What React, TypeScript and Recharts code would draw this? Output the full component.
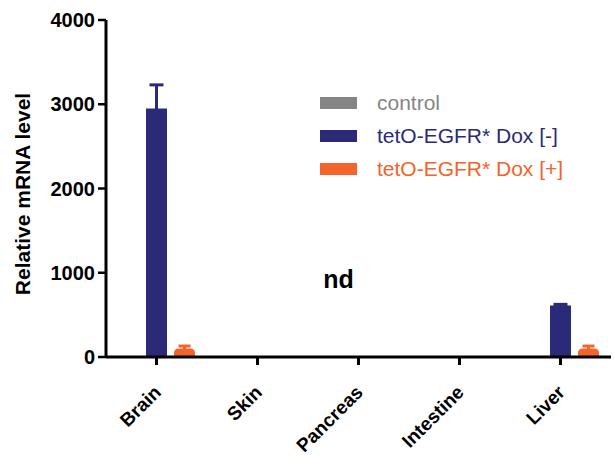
import React from 'react';
import {
  BarChart,
  Bar,
  XAxis,
  YAxis,
  ErrorBar,
  ReferenceDot,
} from 'recharts';

const categories = ['Brain', 'Skin', 'Pancreas', 'Intestine', 'Liver'];
const controlValues: (number | null)[] = [null, null, null, null, null];
const doxMinusValues: (number | null)[] = [2950, null, null, null, 610];
const doxMinusErrors: (number | null)[] = [280, null, null, null, 15];
const doxPlusValues: (number | null)[] = [100, null, null, null, 100];
const doxPlusErrors: (number | null)[] = [30, null, null, null, 30];
const yTicks = [0, 1000, 2000, 3000, 4000];

const seriesNames = ['control', 'tetO-EGFR* Dox [-]', 'tetO-EGFR* Dox [+]'];
const GRAY = '#858585';
const NAVY = '#2b2a78';
const ORANGE = '#f2642a';
const seriesColors = [GRAY, NAVY, ORANGE];

const data = categories.map((c, i) => ({
  name: c,
  control: controlValues[i],
  doxMinus: doxMinusValues[i],
  doxMinusErr: doxMinusErrors[i],
  doxPlus: doxPlusValues[i],
  doxPlusErr: doxPlusErrors[i],
}));

const FONT = '"Liberation Sans", Arial, sans-serif';

const XTick = (props: any) => {
  const { x, y, payload } = props;
  return (
    <text
      transform={`translate(${x + 1},${y + 22}) rotate(-45)`}
      textAnchor="end"
      dominantBaseline="central"
      fontFamily={FONT}
      fontWeight="bold"
      fontSize={19}
      fill="#000"
    >
      {payload.value}
    </text>
  );
};

const YLabel = () => (
  <text
    transform="translate(22,194) rotate(-90)"
    textAnchor="middle"
    dominantBaseline="central"
    fontFamily={FONT}
    fontWeight="bold"
    fontSize={21}
    fill="#000"
  >
    Relative mRNA level
  </text>
);

const LegendBox = () => (
  <div style={{ position: 'absolute', left: 320, top: 86, fontFamily: FONT, fontSize: 21 }}>
    {seriesNames.map((n, i) => (
      <div key={n} style={{ display: 'flex', alignItems: 'center', height: 33, whiteSpace: 'nowrap' }}>
        <div style={{ width: 37, height: 12, background: seriesColors[i], marginRight: 20 }} />
        <span style={{ color: seriesColors[i] }}>{n}</span>
      </div>
    ))}
  </div>
);

export default function App() {
  return (
    <div style={{ position: 'absolute', left: 0, top: 0, width: 614, height: 455, background: '#fff' }}>
      <BarChart
        width={614}
        height={455}
        data={data}
        margin={{ top: 20, right: 3, left: 0, bottom: 0 }}
        barCategoryGap={12}
        barGap={7}
      >
        <XAxis
          dataKey="name"
          height={98}
          axisLine={{ stroke: '#000', strokeWidth: 3 }}
          tickLine={{ stroke: '#000', strokeWidth: 3 }}
          tickSize={8}
          tick={<XTick />}
          interval={0}
        />
        <YAxis
          width={106}
          domain={[0, 4000]}
          ticks={yTicks}
          axisLine={{ stroke: '#000', strokeWidth: 3 }}
          tickLine={{ stroke: '#000', strokeWidth: 2.5 }}
          tickSize={8}
          tickMargin={3}
          tick={{ fontFamily: FONT, fontWeight: 'bold', fontSize: 20, fill: '#000' }}
          label={<YLabel />}
        />
        <Bar dataKey="control" name={seriesNames[0]} fill={GRAY} isAnimationActive={false} />
        <Bar dataKey="doxMinus" name={seriesNames[1]} fill={NAVY} isAnimationActive={false}>
          <ErrorBar dataKey="doxMinusErr" stroke={NAVY} strokeWidth={3} width={7} direction="y" />
        </Bar>
        <Bar dataKey="doxPlus" name={seriesNames[2]} fill={ORANGE} radius={[5, 5, 0, 0]} isAnimationActive={false}>
          <ErrorBar dataKey="doxPlusErr" stroke={ORANGE} strokeWidth={3} width={6} direction="y" />
        </Bar>
        <ReferenceDot
          x="Pancreas"
          y={800}
          r={0}
          fill="none"
          stroke="none"
          label={(p: any) => (
            <text
              x={(p.viewBox?.x ?? 0) - 20}
              y={(p.viewBox?.y ?? 0) - 2}
              textAnchor="middle"
              fontFamily={FONT}
              fontWeight="bold"
              fontSize={25}
              fill="#000"
            >
              nd
            </text>
          )}
        />
      </BarChart>
      <LegendBox />
    </div>
  );
}
